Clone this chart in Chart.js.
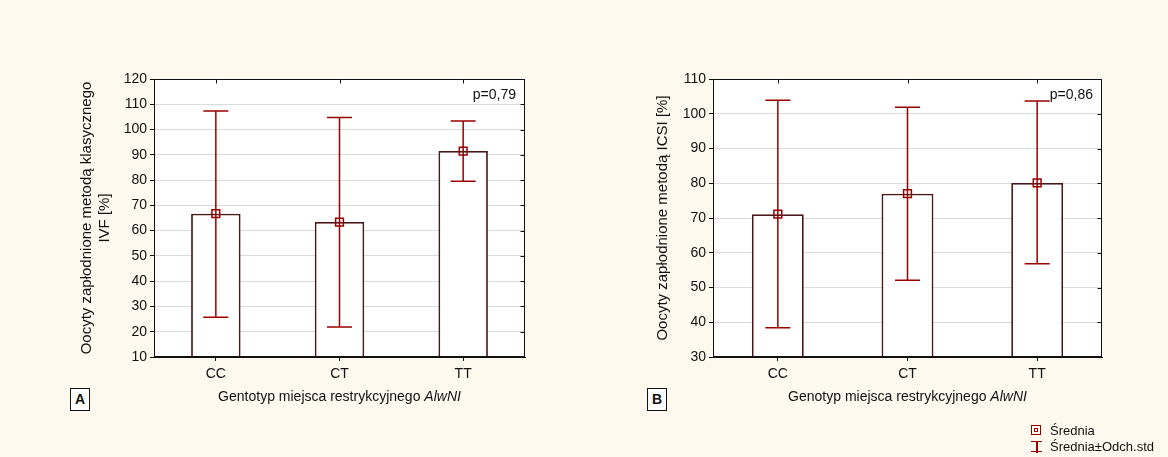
<!DOCTYPE html>
<html>
<head>
<meta charset="utf-8">
<script src="https://cdn.jsdelivr.net/npm/chart.js@4"></script>
<style>
    body { margin: 0; width: 1168px; height: 457px; background: #fdf9ee; position: relative; overflow: hidden; font-family: "Liberation Sans", Arial, sans-serif; }
    .wrap { position: absolute; top: 0; width: 584px; height: 457px; }
    .tag { position: absolute; top: 388px; width: 18px; height: 21px; border: 1.5px solid #111; background: #fff; font-weight: bold; font-size: 14px; line-height: 21px; text-align: center; color: #111; }
    .legend { position: absolute; left: 1031px; top: 423px; font-size: 13px; color: #111; line-height: 16px; }
    .legend div { position: relative; padding-left: 19px; }
    .sq { position: absolute; left: 0; top: 2px; width: 8px; height: 8px; border: 1.5px solid #990000; }
    .sq::after { content: ''; position: absolute; left: 1.5px; top: 1.5px; width: 2px; height: 2px; border: 1.5px solid #990000; }
    .eb { position: absolute; left: 0; top: 2px; width: 11px; height: 12px; }
    .eb::before { content: ''; position: absolute; left: 5px; top: 0; width: 1.5px; height: 12px; background: #990000; }
    .eb::after { content: ''; position: absolute; left: 0; top: 0; width: 11px; height: 9px; border-top: 1.5px solid #990000; border-bottom: 1.5px solid #990000; }
</style>
</head>
<body>
<div class="wrap" style="left:0"><canvas id="chartA"></canvas></div>
<div class="wrap" style="left:584px"><canvas id="chartB"></canvas></div>
<div class="tag" style="left:70px">A</div>
<div class="tag" style="left:647px">B</div>
<div class="legend">
    <div><span class="sq"></span>Średnia</div>
    <div><span class="eb"></span>Średnia±Odch.std</div>
</div>
<script>
const genotypes = ['CC', 'CT', 'TT'];

// A: IVF
const ivfMean = [66.7, 63.4, 91.5];
const ivfLow = [25.7, 21.9, 79.5];
const ivfHigh = [107.3, 104.8, 103.4];

// B: ICSI
const icsiMean = [71.1, 77.0, 80.1];
const icsiLow = [38.4, 52.1, 56.8];
const icsiHigh = [103.9, 101.9, 103.7];

const FONT = '"Liberation Sans", Arial, sans-serif';
const RED = '#990000';
const BAR_EDGE = '#4a1818';

// white plot area, frame, inner ticks, p-value and x title
const frame = {
    id: 'frame',
    beforeDraw(chart) {
        const { ctx, chartArea: a } = chart;
        ctx.save();
        ctx.fillStyle = '#fff';
        ctx.fillRect(a.left, a.top, a.right - a.left, a.bottom - a.top);
        ctx.restore();
    },
    afterDraw(chart, args, opts) {
        const { ctx, chartArea: a, scales: { x, y } } = chart;
        const L = Math.round(a.left) + 0.5, R = Math.round(a.right) - 0.5;
        const T = Math.round(a.top) + 0.5, B = Math.round(a.bottom) - 0.5;
        ctx.save();
        ctx.strokeStyle = '#111';
        ctx.lineWidth = 1;
        ctx.strokeRect(L, T, R - L, B - T);
        ctx.beginPath();
        y.ticks.forEach(t => {
            const py = Math.round(y.getPixelForValue(t.value)) + 0.5;
            ctx.moveTo(R, py); ctx.lineTo(R - 4, py);
        });
        genotypes.forEach((g, i) => {
            const px = Math.round(x.getPixelForValue(i)) + 0.5;
            ctx.moveTo(px, T); ctx.lineTo(px, T + 4);
        });
        ctx.stroke();

        ctx.fillStyle = '#111';
        ctx.font = '14px ' + FONT;
        ctx.textAlign = 'right';
        ctx.textBaseline = 'middle';
        ctx.fillText(opts.pText, a.right - 9, a.top + 16);

        // x axis title with italic enzyme name
        const plain = opts.xTitle, ital = 'AlwNI';
        ctx.font = '14px ' + FONT;
        const w1 = ctx.measureText(plain).width;
        ctx.font = 'italic 14px ' + FONT;
        const w2 = ctx.measureText(ital).width;
        let sx = (a.left + a.right) / 2 - (w1 + w2) / 2;
        ctx.textAlign = 'left';
        ctx.font = '14px ' + FONT;
        ctx.fillText(plain, sx, 397);
        ctx.font = 'italic 14px ' + FONT;
        ctx.fillText(ital, sx + w1, 397);
        ctx.restore();
    }
};

const errorBars = {
    id: 'errorBars',
    afterDatasetDraw(chart, args, opts) {
        if (args.meta.type !== 'bar') return;
        const { ctx, scales: { x, y } } = chart;
        ctx.save();
        ctx.strokeStyle = RED;
        ctx.lineWidth = 1.5;
        ctx.beginPath();
        opts.low.forEach((lo, i) => {
            const px = x.getPixelForValue(i);
            const y1 = y.getPixelForValue(lo), y2 = y.getPixelForValue(opts.high[i]);
            ctx.moveTo(px, y1); ctx.lineTo(px, y2);
            ctx.moveTo(px - 12.5, y1); ctx.lineTo(px + 12.5, y1);
            ctx.moveTo(px - 12.5, y2); ctx.lineTo(px + 12.5, y2);
        });
        ctx.stroke();
        ctx.restore();
    }
};

function makeChart(id, cfg) {
    const el = document.getElementById(id);
    el.width = 584;
    el.height = 457;
    return new Chart(el, {
        type: 'bar',
        data: {
            labels: genotypes,
            datasets: [{
                type: 'line',
                data: cfg.mean,
                showLine: false,
                pointStyle: 'rect',
                pointRadius: 5.5,
                pointHoverRadius: 5.5,
                pointBorderWidth: 1.5,
                pointBorderColor: RED,
                pointBackgroundColor: 'rgba(0,0,0,0)'
            }, {
                data: cfg.mean,
                backgroundColor: '#fff',
                borderColor: BAR_EDGE,
                borderWidth: 1.8,
                barPercentage: 0.4,
                categoryPercentage: 1.0
            }]
        },
        options: {
            responsive: false,
            animation: false,
            layout: { padding: { left: cfg.padLeft, top: 79, right: cfg.padRight, bottom: 40 } },
            scales: {
                x: {
                    afterFit: s => { s.height = 60; },
                    grid: { offset: false, drawOnChartArea: false, tickLength: 4, tickColor: '#111' },
                    border: { color: '#111' },
                    ticks: { color: '#111', padding: 5, font: { family: FONT, size: 14 } }
                },
                y: {
                    min: cfg.min,
                    max: cfg.max,
                    afterFit: s => { s.width = cfg.axisWidth; },
                    grid: { color: '#dadada', tickLength: 4, tickColor: '#111' },
                    border: { color: '#111' },
                    ticks: { stepSize: 10, color: '#111', padding: 3, font: { family: FONT, size: 14 } },
                    title: {
                        display: true,
                        text: cfg.yTitle,
                        color: '#111',
                        padding: { top: cfg.titlePad, bottom: 0 },
                        font: { family: FONT, size: 15, lineHeight: 1.2 }
                    }
                }
            },
            plugins: {
                legend: { display: false },
                tooltip: { enabled: false },
                errorBars: { low: cfg.low, high: cfg.high },
                frame: { pText: cfg.pText, xTitle: cfg.xTitle }
            }
        },
        plugins: [frame, errorBars]
    });
}

makeChart('chartA', {
    mean: ivfMean, low: ivfLow, high: ivfHigh,
    min: 10, max: 120,
    padLeft: 70, padRight: 59, axisWidth: 84, titlePad: 8,
    yTitle: ['Oocyty zapłodnione metodą klasycznego', 'IVF [%]'],
    xTitle: 'Gentotyp miejsca restrykcyjnego ',
    pText: 'p=0,79'
});

makeChart('chartB', {
    mean: icsiMean, low: icsiLow, high: icsiHigh,
    min: 30, max: 110,
    padLeft: 60, padRight: 66, axisWidth: 69, titlePad: 10,
    yTitle: 'Oocyty zapłodnione metodą ICSI [%]',
    xTitle: 'Genotyp miejsca restrykcyjnego ',
    pText: 'p=0,86'
});
</script>
</body>
</html>
